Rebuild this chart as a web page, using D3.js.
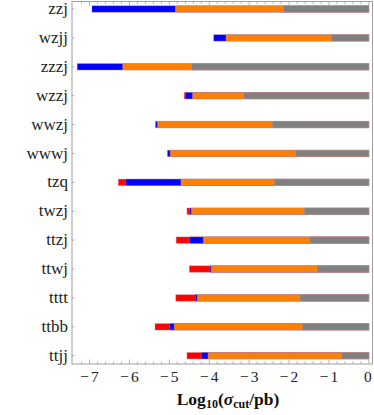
<!DOCTYPE html>
<html>
<head>
<meta charset="utf-8">
<script src="https://cdn.jsdelivr.net/npm/d3@7"></script>
<style>
  body { margin: 0; background: #fff; }
</style>
</head>
<body>
<svg id="svg"></svg>
<script>
// processes, top to bottom
const categories = ["zzj", "wzjj", "zzzj", "wzzj", "wwzj", "wwwj", "tzq", "twzj", "ttzj", "ttwj", "tttt", "ttbb", "ttjj"];

// log10(sigma_cut/pb) where each coloured bar starts (it runs to 0); null = no bar
const redStart    = [null, null, null, -4.63, null, null, -6.28, -4.56, -4.83, -4.50, -4.84, -5.36, -4.56];
const blueStart   = [-6.94, -3.89, -7.31, -4.60, -5.35, -5.05, -6.10, -4.49, -4.49, -3.98, -4.35, -4.99, -4.20];
const orangeStart = [-4.85, -3.58, -6.17, -4.42, -5.30, -4.98, -4.71, -4.45, -4.15, -3.95, -4.30, -4.88, -4.03];
const grayStart   = [-2.145, -0.95, -4.445, -3.13, -2.42, -1.84, -2.37, -1.62, -1.48, -1.30, -1.73, -1.67, -0.69];

const xTicks = [-7, -6, -5, -4, -3, -2, -1, 0];

let width = 374;
let height = 415;
let svg = d3.select("#svg").attr("width", width).attr("height", height)
    .style("font-family", "'Liberation Serif', 'Times New Roman', serif");

let plotLeft = 72, plotRight = 372.5, plotTop = 1.5, plotBottom = 364;

let x = d3.scaleLinear().domain([-7.44, 0.09]).range([plotLeft, plotRight]);
let y = d3.scalePoint().domain(categories).range([9, 355.7]);

let barH = 6.5;
let frameColor = "#a0a0a0";

// bars, longest first so the shorter ones sit on top
let layers = [
    { starts: redStart, color: "#ff0000" },
    { starts: blueStart, color: "#0000ff" },
    { starts: orangeStart, color: "#ff8000" },
    { starts: grayStart, color: "#808080" }
];

layers.forEach(function (layer) {
    let rows = categories.map((c, i) => ({ cat: c, v: layer.starts[i] })).filter(d => d.v !== null);
    svg.append("g").selectAll("rect")
        .data(rows)
        .join("rect")
        .attr("x", d => x(d.v))
        .attr("y", d => y(d.cat) - barH / 2)
        .attr("width", d => x(0) - x(d.v))
        .attr("height", barH)
        .attr("fill", layer.color)
        .attr("stroke", "rgba(200,150,160,0.45)")
        .attr("stroke-width", 0.8);
});

// frame
svg.append("rect")
    .attr("x", plotLeft).attr("y", plotTop)
    .attr("width", plotRight - plotLeft).attr("height", plotBottom - plotTop)
    .attr("fill", "none")
    .attr("stroke", frameColor)
    .attr("stroke-width", 1);

// minor + major ticks on bottom and top
let minor = d3.range(-72, 1).map(d => d / 10).filter(d => Math.abs(d * 5 - Math.round(d * 5)) < 1e-6);
let tickG = svg.append("g").attr("stroke", frameColor).attr("stroke-width", 0.8);
minor.forEach(function (t) {
    let major = Math.abs(t - Math.round(t)) < 1e-6;
    let len = major ? 4.5 : 2.5;
    tickG.append("line").attr("x1", x(t)).attr("x2", x(t)).attr("y1", plotBottom).attr("y2", plotBottom - len);
    tickG.append("line").attr("x1", x(t)).attr("x2", x(t)).attr("y1", plotTop).attr("y2", plotTop + len);
});

// category ticks on the left
categories.forEach(function (c) {
    tickG.append("line").attr("x1", plotLeft).attr("x2", plotLeft + 2.5).attr("y1", y(c)).attr("y2", y(c));
});

// x tick labels (minus sign and digit a bit apart, like the original)
svg.append("g").selectAll("text")
    .data(xTicks)
    .join("text")
    .attr("x", d => x(d) + (d < 0 ? 1 : 0))
    .attr("y", 382)
    .attr("text-anchor", "middle")
    .attr("font-size", 15.5)
    .attr("letter-spacing", 2)
    .attr("fill", "#222")
    .text(d => d3.format("d")(d));

// category labels
svg.append("g").selectAll("text")
    .data(categories)
    .join("text")
    .attr("x", 68)
    .attr("y", d => y(d))
    .attr("dy", "0.3em")
    .attr("text-anchor", "end")
    .attr("font-size", 17)
    .attr("fill", "#222")
    .text(d => d);

// axis title
let title = svg.append("text")
    .attr("x", 228)
    .attr("y", 405)
    .attr("text-anchor", "middle")
    .attr("font-size", 17.5)
    .attr("font-weight", "bold")
    .attr("fill", "#111");
title.append("tspan").text("Log");
title.append("tspan").attr("font-size", 12).attr("dy", 3).text("10");
title.append("tspan").attr("dy", -3).text("(");
title.append("tspan").attr("font-style", "italic").text("σ");
title.append("tspan").attr("font-size", 12).attr("dy", 3).text("cut");
title.append("tspan").attr("dy", -3).text("/pb)");
</script>
</body>
</html>
